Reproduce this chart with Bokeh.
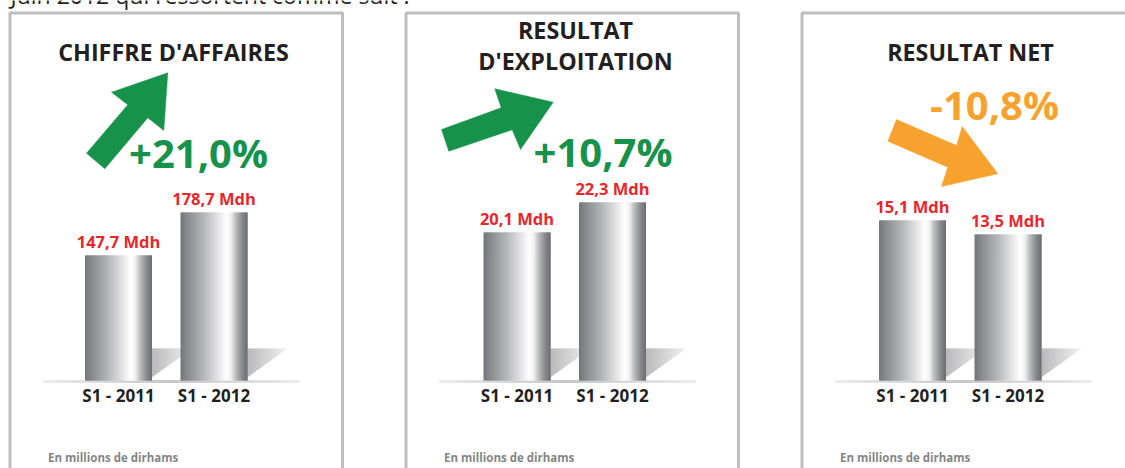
from bokeh.plotting import figure
from bokeh.models import Range1d, ColumnDataSource
from bokeh.core.properties import value
from bokeh.embed import file_html
from bokeh.resources import INLINE

# ---------------- data ----------------
intro_text = "Juin 2012 qui ressortent comme suit :"
panel_titles = [["CHIFFRE D'AFFAIRES"], ["RESULTAT", "D'EXPLOITATION"], ["RESULTAT NET"]]
categories = ["S1 - 2011", "S1 - 2012"]
chiffre_affaires = [147.7, 178.7]
resultat_exploitation = [20.1, 22.3]
resultat_net = [15.1, 13.5]
change_labels = ["+21,0%", "+10,7%", "-10,8%"]
change_up = [True, True, False]
unit_note = "En millions de dirhams"
series = [chiffre_affaires, resultat_exploitation, resultat_net]

# ---------------- layout / style ----------------
W, H = 1125, 468
FONT = value("Open Sans")
BASELINE_FIX = 0.42  # em; renderer draws 'alphabetic' text lower than asked
panel_left = [9.5, 405.5, 801.5]
panel_width = 332.5
border_top = 12.5
first_bar_center = [118, 516.5, 912]
bar_step = 95.5
bar_w = 67
base_px = 380
label_gap_px = 7.5
# value-axis ranges (value shown at bottom / top of the 468px canvas)
value_ranges = [(-5.86, 331.54), (2.79, 37.11), (-13.24, 40.24)]
title_x = [173, 575, 970]
title_baselines = [[61.5], [39, 70], [61.5]]
change_pos = [(198, 169), (602.5, 168), (994, 121)]
arrows = [
    [(86, 152.7), (127.3, 104.3), (111, 91.7), (167.3, 72.3), (163.3, 130), (147.3, 117.3), (104.3, 168.3)],
    [(441, 129), (500.7, 107.3), (494.3, 88.3), (552.7, 101.7), (520, 149), (511.7, 129.3), (448.3, 150.7)],
    [(896, 119), (956, 145), (961.7, 126), (997.3, 173.3), (941, 186), (947.3, 166.7), (887.3, 140.7)],
]
GREEN = "#17924a"
ORANGE = "#f7a12f"
RED = "#e8262b"
DARK = "#231f20"
BORDER = "#bebec0"

TITLE_FS, CHANGE_FS, VAL_FS, CAT_FS, NOTE_FS, INTRO_FS = 23.3, 40, 16.5, 17, 11.5, 23


def ty(y, fs):
    return y - BASELINE_FIX * fs


p = figure(width=W, height=H, x_range=Range1d(0, W), y_range=Range1d(H, 0),
           x_axis_location=None, y_axis_location=None, toolbar_location=None,
           output_backend="svg", min_border=0, outline_line_color=None,
           background_fill_color="white", border_fill_color="white")
p.grid.visible = False
for k, (s, e) in enumerate(value_ranges):
    p.extra_y_ranges[f"v{k}"] = Range1d(s, e)


def hex2rgb(h):
    h = h.lstrip("#")
    return [int(h[i:i + 2], 16) for i in (0, 2, 4)]


def grad(stops, t):
    for (t0, c0), (t1, c1) in zip(stops, stops[1:]):
        if t0 <= t <= t1:
            f = (t - t0) / (t1 - t0) if t1 > t0 else 0
            a, b = hex2rgb(c0), hex2rgb(c1)
            return "#%02x%02x%02x" % tuple(int(round(a[i] + (b[i] - a[i]) * f)) for i in range(3))
    return stops[-1][1]


bar_stops = [(0, "#75767a"), (0.15, "#929397"), (0.35, "#b6b7ba"), (0.55, "#e2e2e3"),
             (0.68, "#ffffff"), (0.75, "#f2f2f2"), (0.82, "#bdbec0"), (0.92, "#88898c"), (1.0, "#6b6c6f")]
shadow_stops = [(0, "#b9b9bb"), (1.0, "#f2f2f2")]
line_stops = [(0, "#ececec"), (0.5, "#c6c6c8"), (1.0, "#ececec")]

# intro text (cut at top)
p.text(x=[10], y=[ty(4, INTRO_FS)], text=[intro_text], text_font=FONT, text_font_size=f"{INTRO_FS}px",
       text_color=DARK, text_baseline="alphabetic", text_align="left")

for k in range(3):
    L = panel_left[k]
    # panel border
    p.line(x=[L, L, L + panel_width, L + panel_width], y=[H + 5, border_top, border_top, H + 5],
           line_color=BORDER, line_width=3)
    # titles
    for line_txt, yb in zip(panel_titles[k], title_baselines[k]):
        p.text(x=[title_x[k]], y=[ty(yb, TITLE_FS)], text=[line_txt], text_font=FONT, text_font_style="bold",
               text_font_size=f"{TITLE_FS}px", text_color=DARK, text_align="center", text_baseline="alphabetic")
    # arrow
    col = GREEN if change_up[k] else ORANGE
    xs, ys = zip(*arrows[k])
    p.patch(x=list(xs), y=list(ys), fill_color=col, line_color=col, line_width=0.5)
    # change percentage
    p.text(x=[change_pos[k][0]], y=[ty(change_pos[k][1], CHANGE_FS)], text=[change_labels[k]], text_font=FONT,
           text_font_style="bold", text_font_size=f"{CHANGE_FS}px", text_color=col,
           text_align="center", text_baseline="alphabetic")

    centers = [first_bar_center[k] + i * bar_step for i in range(len(categories))]
    s, e = value_ranges[k]
    base_val = e - base_px / H * (e - s)
    units_per_px = (e - s) / H

    # shadows (gradient triangles)
    sx, sy, sc = [], [], []
    NS = 40
    sh_w, sh_top, sh_bot = 40, 348, 376.7
    for c in centers:
        R = c + bar_w / 2
        for j in range(NS):
            x0 = R + j * sh_w / NS
            x1 = R + (j + 1) * sh_w / NS + 0.6
            yd0 = sh_bot - (x0 - R) * (sh_bot - sh_top) / sh_w
            yd1 = max(sh_top, sh_bot - (x1 - R) * (sh_bot - sh_top) / sh_w)
            sx.append([x0, x1, x1, x0])
            sy.append([sh_top, sh_top, yd1, yd0])
            sc.append(grad(shadow_stops, (j + 0.5) / NS))
    p.patches(xs=sx, ys=sy, fill_color=sc, line_color=None)

    # baseline line
    x0l, x1l = L + 33, L + 289
    NL = 40
    seg_x = [[x0l + (x1l - x0l) * j / NL, x0l + (x1l - x0l) * (j + 1) / NL + 0.5] for j in range(NL)]
    seg_c = [grad(line_stops, (j + 0.5) / NL) for j in range(NL)]
    p.multi_line(xs=seg_x, ys=[[381, 381]] * NL, line_color=seg_c, line_width=3)

    # bars (gradient strips, each overlapping the next to avoid seams)
    NB = 67
    step = bar_w / NB
    bl, br, btop, bcol = [], [], [], []
    for c, v in zip(centers, series[k]):
        for j in range(NB):
            t = (j + 0.5) / NB
            left = c - bar_w / 2 + j * step
            bl.append(left)
            br.append(min(left + step + 1.0, c + bar_w / 2))
            btop.append(v)
            bcol.append(grad(bar_stops, t))
    src = ColumnDataSource(dict(left=bl, right=br, top=btop, color=bcol))
    p.quad(left="left", right="right", top="top", bottom=base_val, fill_color="color",
           line_color=None, source=src, y_range_name=f"v{k}")

    # value labels (placed a fixed pixel gap above each bar top)
    labels = [f"{v:.1f}".replace(".", ",") + " Mdh" for v in series[k]]
    gap = label_gap_px + BASELINE_FIX * VAL_FS
    label_y = [v + gap * units_per_px for v in series[k]]
    p.text(x=centers, y=label_y, text=labels, y_range_name=f"v{k}",
           text_font=FONT, text_font_style="bold", text_font_size=f"{VAL_FS}px", text_color=RED,
           text_align="center", text_baseline="alphabetic")

    # category labels
    p.text(x=centers, y=[ty(402.5, CAT_FS)] * len(centers), text=categories, text_font=FONT,
           text_font_style="bold", text_font_size=f"{CAT_FS}px", text_color=DARK,
           text_align="center", text_baseline="alphabetic")

    # unit note
    p.text(x=[L + 38], y=[ty(461.5, NOTE_FS)], text=[unit_note], text_font=FONT, text_font_style="bold",
           text_font_size=f"{NOTE_FS}px", text_color="#858587", text_align="left", text_baseline="alphabetic")

open("out.html", "w").write(file_html(p, INLINE))
